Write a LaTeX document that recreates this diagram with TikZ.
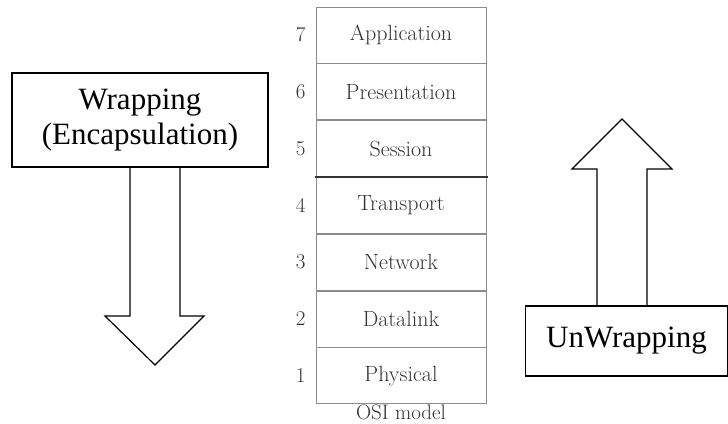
\documentclass[tikz,border=0pt]{standalone}
\usepackage{fontspec}
\newfontfamily\timesfont{Liberation Serif}
\usetikzlibrary{positioning}
\tikzset{
    layer/.style={draw=black!45,line width=0.8pt,minimum width=170pt,minimum height=56pt,
        inner sep=0pt,text=black!80,font=\fontsize{22}{26}\selectfont},
    num/.style={text=black!80,font=\fontsize{21}{25}\selectfont},
    tagbox/.style={draw,line width=1.2pt,inner sep=0pt,align=center,
        font=\timesfont\fontsize{31}{35}\selectfont},
    blockarrow/.style={draw,line width=1.2pt,line join=miter}
}
\begin{document}
\begin{tikzpicture}[x=1pt,y=-1pt,node distance=0pt]
            \useasboundingbox (0,0) rectangle (728,423);
            % osi stack
            \node[layer] (l7) at (401,35) {Application};
            \node[layer,below=of l7] (l6) {Presentation};
            \node[layer,below=of l6] (l5) {Session};
            \node[layer,below=of l5] (l4) {Transport};
            \node[layer,below=of l4] (l3) {Network};
            \node[layer,below=of l3] (l2) {Datalink};
            \node[layer,below=of l2] (l1) {Physical};
            \foreach \i in {1,...,7}
                \node[num] (n\i) at ([xshift=-15pt]l\i.west) {\i};
            \draw[line width=2pt,black!80] ([xshift=-1pt]l5.south west) -- ([xshift=2pt]l5.south east);
            \node[num,anchor=north,inner sep=1pt,yshift=1pt] (osi) at (l1.south) {OSI model};
            % wrapping
            \node[tagbox,minimum width=256pt,minimum height=94pt] (wrap) at (140,120)
                {Wrapping\\(Encapsulation)};
            \draw[blockarrow] 
            (130,167)--(130,316)--(105,316)--(155,365)--(204,316)--(180,316)--(180,167)
            ;
            % unwrapping
            \node[tagbox,minimum width=202pt,minimum height=70pt] (unwrap) at (626.5,341) {UnWrapping};
            \draw[blockarrow] 
            (597,306)--(597,169)--(572,169)--(622,119)--(672,169)--(647,169)--(647,306)
            ;
\end{tikzpicture}
\end{document}
